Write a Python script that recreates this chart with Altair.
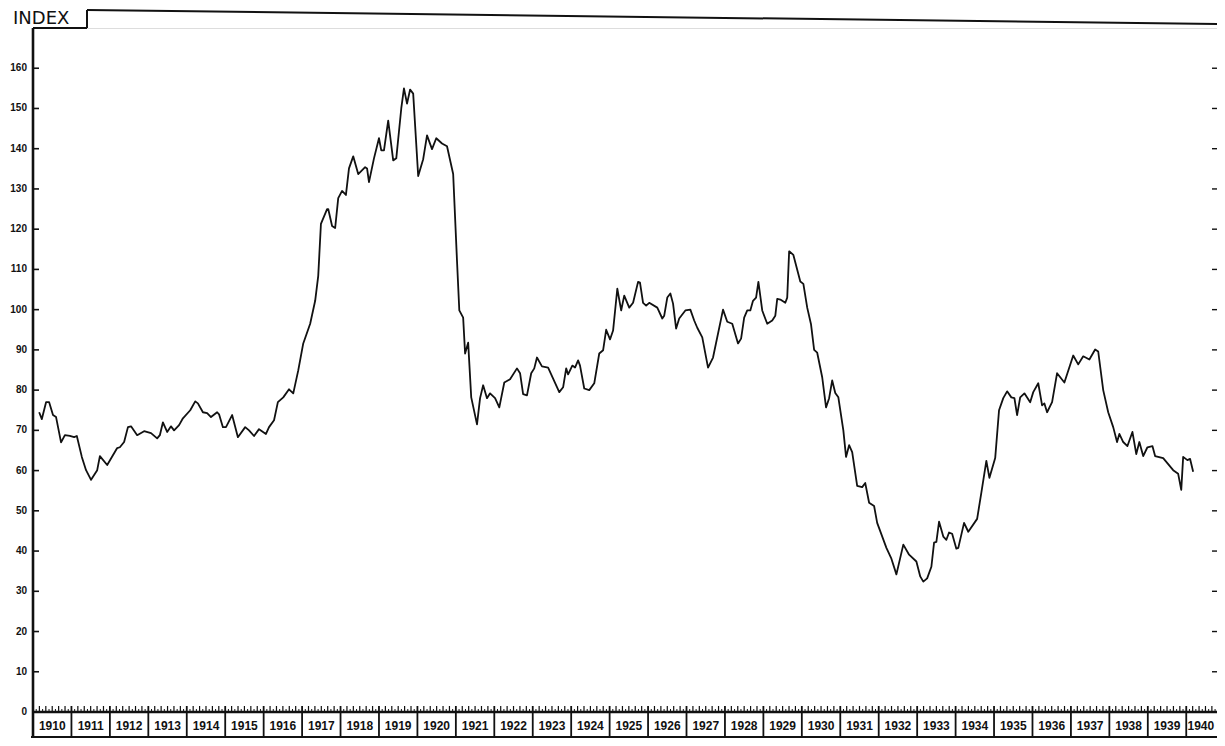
import altair as alt
import pandas as pd

# ---- data (fractional year, index value) ----
years = [
    1910.16, 1910.23, 1910.34, 1910.42, 1910.52, 1910.60, 1910.73, 1910.83, 1910.96,
    1911.07, 1911.14, 1911.27, 1911.38, 1911.51, 1911.67, 1911.74, 1911.93,
    1912.19, 1912.26, 1912.37, 1912.47, 1912.55, 1912.71, 1912.89,
    1913.07, 1913.23, 1913.30, 1913.38, 1913.49, 1913.59, 1913.67, 1913.80, 1913.90,
    1914.09, 1914.22, 1914.29, 1914.42, 1914.53, 1914.63, 1914.79, 1914.84, 1914.94,
    1915.02, 1915.18, 1915.33, 1915.52, 1915.62, 1915.75, 1915.88,
    1916.06, 1916.14, 1916.27, 1916.37, 1916.51, 1916.66, 1916.77, 1916.90,
    1917.03, 1917.21, 1917.34, 1917.42, 1917.49, 1917.65, 1917.68, 1917.78, 1917.86, 1917.94,
    1918.04, 1918.14, 1918.22, 1918.33, 1918.46, 1918.64, 1918.69, 1918.74, 1918.87,
    1919.00, 1919.06, 1919.13, 1919.24, 1919.37, 1919.45, 1919.58, 1919.65, 1919.73, 1919.81, 1919.89,
    1920.02, 1920.15, 1920.25, 1920.38, 1920.49, 1920.64, 1920.77, 1920.93,
    1921.03, 1921.09, 1921.19, 1921.24, 1921.32, 1921.40, 1921.55, 1921.63, 1921.71, 1921.81, 1921.89,
    1922.02, 1922.13, 1922.26, 1922.41, 1922.59, 1922.67, 1922.75, 1922.85, 1922.96,
    1923.04, 1923.11, 1923.24, 1923.40, 1923.69, 1923.79, 1923.87, 1923.92,
    1924.03, 1924.10, 1924.18, 1924.23, 1924.34, 1924.47, 1924.60, 1924.73, 1924.83, 1924.91,
    1925.01, 1925.09, 1925.20, 1925.30, 1925.38, 1925.51, 1925.61, 1925.74, 1925.79, 1925.87, 1925.95,
    1926.03, 1926.24, 1926.37, 1926.42, 1926.50, 1926.58, 1926.65, 1926.73, 1926.81, 1926.97,
    1927.10, 1927.20, 1927.28, 1927.41, 1927.56, 1927.69, 1927.95,
    1928.06, 1928.19, 1928.34, 1928.42, 1928.50, 1928.58, 1928.66, 1928.73, 1928.81, 1928.87, 1928.97,
    1929.10, 1929.23, 1929.31, 1929.36, 1929.44, 1929.57, 1929.62, 1929.67, 1929.78, 1929.96,
    1930.04, 1930.14, 1930.24, 1930.32, 1930.40, 1930.53, 1930.63, 1930.71, 1930.79, 1930.87, 1930.95,
    1931.08, 1931.15, 1931.23, 1931.31, 1931.44, 1931.57, 1931.65, 1931.75, 1931.88, 1931.96,
    1932.20, 1932.33, 1932.46, 1932.64, 1932.79, 1932.98,
    1933.08, 1933.16, 1933.26, 1933.37, 1933.44, 1933.50, 1933.57, 1933.68, 1933.76, 1933.83, 1933.91,
    1934.02, 1934.07, 1934.22, 1934.33, 1934.56, 1934.67, 1934.80, 1934.88,
    1935.03, 1935.13, 1935.24, 1935.34, 1935.45, 1935.53, 1935.60, 1935.68, 1935.79, 1935.94,
    1936.02, 1936.15, 1936.25, 1936.31, 1936.38, 1936.51, 1936.64, 1936.83,
    1937.06, 1937.19, 1937.32, 1937.48, 1937.63, 1937.71, 1937.84, 1937.97,
    1938.10, 1938.20, 1938.26, 1938.36, 1938.47, 1938.60, 1938.70, 1938.78, 1938.88, 1938.99,
    1939.12, 1939.19, 1939.40, 1939.66, 1939.79, 1939.87, 1939.92,
    1940.03, 1940.10, 1940.18,
]

index_values = [
    74.5, 72.8, 77.0, 77.0, 73.8, 73.3, 67.0, 68.8, 68.6,
    68.3, 68.6, 63.4, 60.1, 57.7, 60.1, 63.6, 61.4,
    65.6, 65.8, 67.1, 70.8, 71.0, 68.8, 69.8,
    69.3, 68.0, 68.8, 72.0, 69.6, 71.0, 70.0, 71.3, 73.0,
    75.0, 77.2, 76.7, 74.5, 74.3, 73.3, 74.5, 74.0, 70.8,
    70.8, 73.8, 68.3, 70.8, 70.0, 68.6, 70.3,
    69.1, 70.8, 72.5, 77.0, 78.2, 80.2, 79.2, 84.9,
    91.6, 96.5, 102.2, 108.4, 121.3, 125.0, 125.0, 120.8, 120.3, 127.7,
    129.5, 128.5, 135.1, 138.1, 133.7, 135.4, 135.1, 131.7, 137.6,
    142.6, 139.6, 139.6, 147.0, 137.1, 137.6, 150.0, 155.0, 151.2, 154.7, 153.7,
    133.2, 137.4, 143.3, 139.9, 142.6, 141.3, 140.6, 133.7,
    112.1, 99.8, 98.0, 89.1, 91.8, 78.2, 71.5, 78.0, 81.2, 78.0, 79.2,
    78.0, 75.7, 81.9, 82.7, 85.4, 84.2, 79.0, 78.7, 84.2,
    85.4, 88.1, 85.9, 85.6, 79.5, 80.7, 85.4, 83.9,
    86.1, 85.6, 87.4, 86.1, 80.4, 80.0, 81.7, 89.1, 89.9, 95.0,
    92.6, 94.8, 105.2, 99.8, 103.5, 100.5, 101.7, 106.9, 106.7, 101.7, 101.0,
    101.7, 100.5, 97.8, 98.5, 103.0, 104.0, 101.5, 95.3, 97.8, 99.8,
    100.0, 97.3, 95.5, 93.1, 85.6, 88.1, 100.0,
    97.0, 96.5, 91.6, 92.8, 98.0, 99.8, 99.8, 102.2, 103.0, 106.9, 99.8,
    96.5, 97.3, 98.5, 102.7, 102.5, 101.7, 103.0, 114.5, 113.6, 107.0,
    106.4, 100.5, 96.3, 90.0, 89.3, 83.2, 75.7, 78.0, 82.4, 79.3, 78.2,
    70.0, 63.4, 66.3, 64.6, 56.2, 55.9, 56.9, 52.0, 51.2, 47.0,
    40.8, 38.1, 34.2, 41.6, 39.1, 37.4,
    33.7, 32.4, 33.2, 36.1, 42.1, 42.3, 47.3, 43.6, 42.8, 44.6, 44.3,
    40.6, 40.8, 47.0, 44.8, 48.0, 54.5, 62.4, 58.2,
    63.1, 75.0, 78.0, 79.7, 78.2, 78.0, 73.8, 78.2, 79.2, 77.0,
    79.5, 81.7, 76.2, 76.7, 74.5, 77.0, 84.2, 81.9,
    88.6, 86.4, 88.4, 87.6, 90.1, 89.6, 80.0, 74.5,
    70.8, 67.1, 69.1, 67.1, 66.1, 69.6, 64.1, 67.1, 63.6, 65.8,
    66.1, 63.6, 63.1, 60.1, 59.2, 55.2, 63.4,
    62.6, 62.9, 59.7,
]

y_tick_values = [0, 10, 20, 30, 40, 50, 60, 70, 80, 90, 100, 110, 120, 130, 140, 150, 160]
y_tick_labels = [str(v) for v in y_tick_values]
year_starts = list(range(1910, 1941))
year_labels = [str(y) for y in year_starts]
title_text = "INDEX"

# ---- layout ----
W, H = 1184, 684
X_DOMAIN = [1910, 1940.8]
Y_DOMAIN = [0, 170]
INK = "#111111"
LABEL_FONT = "Liberation Sans"

xs = alt.Scale(domain=X_DOMAIN, nice=False, zero=False)
ys = alt.Scale(domain=Y_DOMAIN, nice=False, zero=False)

series = pd.DataFrame({"year": years, "index": index_values})
ticks_df = pd.DataFrame({"v": y_tick_values, "lab": y_tick_labels})
right_ticks_df = pd.DataFrame({"v": [v for v in y_tick_values if v > 0]})
# label centred in the visible part of each year box (last box is cut by the edge)
label_mid = [min(y + 0.5, X_DOMAIN[1] - 0.42) for y in year_starts]
years_df = pd.DataFrame({"yr": year_starts, "mid": label_mid, "label": year_labels})
months = [y + m / 12 for y in year_starts for m in range(1, 12)]
months_df = pd.DataFrame({"t": [t for t in months if t < X_DOMAIN[1]]})
months_df["even"] = [round((t % 1) * 12) % 2 == 0 for t in months_df["t"]]
one = pd.DataFrame({"a": [0]})

line = alt.Chart(series).mark_line(color=INK, strokeWidth=1.8, strokeJoin="round").encode(
    x=alt.X("year:Q", scale=xs, axis=None),
    y=alt.Y("index:Q", scale=ys, axis=None),
)

# left axis line (runs down through the year boxes) and baseline
y_domain = alt.Chart(one).mark_rule(color=INK, strokeWidth=2.6).encode(
    x=alt.value(0), y=alt.value(0), y2=alt.value(H + 25)
)
baseline = alt.Chart(one).mark_rule(color=INK, strokeWidth=2.4).encode(
    x=alt.value(0), x2=alt.value(W), y=alt.value(H)
)

# inward y ticks and labels on left
ytick = alt.Chart(ticks_df).transform_filter("datum.v > 0").mark_rule(color=INK, strokeWidth=1.6).encode(
    x=alt.value(0), x2=alt.value(6), y=alt.Y("v:Q", scale=ys, axis=None)
)
ylab = alt.Chart(ticks_df).mark_text(font=LABEL_FONT, fontSize=10, fontWeight="bold", color=INK,
                                     align="right", baseline="middle").encode(
    x=alt.value(-6), y=alt.Y("v:Q", scale=ys, axis=None), text="lab:N"
)
# small marks on right edge
rtick = alt.Chart(right_ticks_df).mark_rule(color=INK, strokeWidth=1.4).encode(
    x=alt.value(W - 5), x2=alt.value(W), y=alt.Y("v:Q", scale=ys, axis=None)
)

# monthly ticks above baseline
mt_short = alt.Chart(months_df).transform_filter("!datum.even").mark_rule(color=INK, strokeWidth=1).encode(
    x=alt.X("t:Q", scale=xs, axis=None), y=alt.value(H - 3), y2=alt.value(H)
)
mt_tall = alt.Chart(months_df).transform_filter("datum.even").mark_rule(color=INK, strokeWidth=1.2).encode(
    x=alt.X("t:Q", scale=xs, axis=None), y=alt.value(H - 6), y2=alt.value(H)
)

# year boxes below the axis
year_sep = alt.Chart(years_df).mark_rule(color=INK, strokeWidth=1.8).encode(
    x=alt.X("yr:Q", scale=xs, axis=None), y=alt.value(H - 6), y2=alt.value(H + 25)
)
box_bottom = alt.Chart(one).mark_rule(color=INK, strokeWidth=2.2).encode(
    x=alt.value(-2), x2=alt.value(W), y=alt.value(H + 25)
)
year_text = alt.Chart(years_df).mark_text(font=LABEL_FONT, fontSize=12, fontWeight="bold", color=INK,
                                          baseline="middle", align="center").encode(
    x=alt.X("mid:Q", scale=xs, axis=None), y=alt.value(H + 13.5), text="label:N"
)

# frame with the title notch
notch_h = alt.Chart(one).mark_rule(color=INK, strokeWidth=2).encode(
    x=alt.value(0), x2=alt.value(54), y=alt.value(0)
)
notch_v = alt.Chart(one).mark_rule(color=INK, strokeWidth=2).encode(
    x=alt.value(54), y=alt.value(-18), y2=alt.value(0)
)
top_line = alt.Chart(one).mark_rule(color=INK, strokeWidth=2).encode(
    x=alt.value(54), x2=alt.value(W), y=alt.value(-18), y2=alt.value(-4)
)
title = alt.Chart(one).mark_text(text=title_text, font="DejaVu Sans", fontSize=18, color=INK,
                                 align="left", baseline="alphabetic").encode(
    x=alt.value(-20), y=alt.value(-4)
)

chart = alt.layer(
    line, y_domain, baseline, ytick, ylab, rtick, mt_short, mt_tall, year_sep, box_bottom, year_text,
    notch_h, notch_v, top_line, title
).properties(
    width=W, height=H,
    autosize=alt.AutoSizeParams(type="none"),
    padding={"left": 25, "top": 20, "right": 0, "bottom": 26},
).configure_view(stroke=None).configure(background="white")

chart.save("out.html", embed_options={"renderer": "svg", "actions": False})
